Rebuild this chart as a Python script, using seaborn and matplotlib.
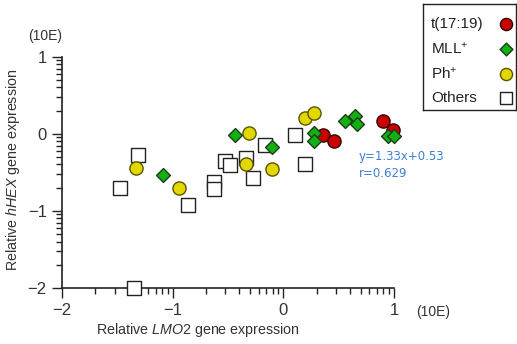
import matplotlib.pyplot as plt
import matplotlib.ticker as mticker
import seaborn as sns
import pandas as pd
import numpy as np

# log10 relative expression values
others_x = [-1.31, -1.48, -0.86, -0.63, -0.63, -0.53, -0.48, -0.34, -0.17, -0.27, 0.11, 0.20, -1.35]
others_y = [-0.27, -0.70, -0.93, -0.63, -0.71, -0.35, -0.41, -0.32, -0.15, -0.57, -0.02, -0.39, -2.0]
ph_x = [-1.33, -0.94, -0.31, -0.34, -0.10, 0.20, 0.28]
ph_y = [-0.45, -0.70, 0.01, -0.39, -0.46, 0.20, 0.27]
t1719_x = [0.36, 0.46, 0.90, 0.99]
t1719_y = [-0.01, -0.09, 0.16, 0.05]
mll_x = [-1.09, -0.44, -0.10, 0.28, 0.28, 0.56, 0.65, 0.67, 0.95, 1.00]
mll_y = [-0.54, -0.02, -0.17, 0.01, -0.09, 0.16, 0.23, 0.13, -0.03, -0.03]

ticks = [-2, -1, 0, 1]
fit_text = "y=1.33x+0.53\nr=0.629"

sns.set_style("ticks")
plt.rcParams['font.family'] = ['Liberation Sans', 'DejaVu Sans']
plt.rcParams['mathtext.fontset'] = 'custom'
plt.rcParams['mathtext.it'] = 'Liberation Sans:italic'
plt.rcParams['mathtext.rm'] = 'Liberation Sans'

fig = plt.figure(figsize=(5.17, 3.44), dpi=100)
ax = fig.add_axes([0.12, 0.163, 0.642, 0.672])

# name, x, y, marker, face, edge, size  (drawing order: squares under everything)
groups = [
    ("Others", others_x, others_y, "s", "white", "#222222", 95),
    ("Ph$^{+}$", ph_x, ph_y, "o", "#e2d800", "#5a5500", 90),
    ("t(17:19)", t1719_x, t1719_y, "o", "#c80000", "#3a0000", 90),
    ("MLL$^{+}$", mll_x, mll_y, "D", "#12b012", "#1c3c1c", 50),
]
style = {}
for name, xs, ys, mk, fc, ec, s in groups:
    df = pd.DataFrame({'x': xs, 'y': ys})
    sns.scatterplot(data=df, x='x', y='y', marker=mk, color=fc, edgecolor=ec,
                    linewidth=1.0, s=s, ax=ax, zorder=3, clip_on=False, legend=False)
    style[name] = (mk, fc, ec, s)

ax.set_xlim(-2, 1)
ax.set_ylim(-2, 1)
ax.set_xticks(ticks)
ax.set_yticks(ticks)
minor = [d + np.log10(k) for d in ticks[:-1] for k in range(2, 10)]
ax.xaxis.set_minor_locator(mticker.FixedLocator(minor))
ax.yaxis.set_minor_locator(mticker.FixedLocator(minor))
ax.tick_params(which='major', length=7, width=1, labelsize=12, colors='#222222',
               labelcolor='#333333', pad=4)
ax.tick_params(which='minor', length=4, width=1, colors='#222222')
for sp in ['left', 'bottom']:
    ax.spines[sp].set_color('#222222')
    ax.spines[sp].set_linewidth(1.2)
sns.despine(ax=ax)

ax.set_xlabel("Relative $\\it{LMO2}$ gene expression", fontsize=10.3, color='#333333')
ax.set_ylabel("Relative $\\it{hHEX}$ gene expression", fontsize=10.3, color='#333333')
ax.xaxis.set_label_coords(0.41, -0.143)
ax.yaxis.set_label_coords(-0.12, 0.51)

fig.text(0.055, 0.895, "(10E)", fontsize=10, color='#333333', va='center')
fig.text(0.805, 0.093, "(10E)", fontsize=10, color='#333333', va='center')

ax.text(0.68, -0.21, fit_text, fontsize=8.5, color='#3a80d8', family='DejaVu Sans',
        va='top', linespacing=1.45)

# legend box: text left, marker right
order = ["t(17:19)", "MLL$^{+}$", "Ph$^{+}$", "Others"]
lax = fig.add_axes([0.818, 0.68, 0.18, 0.308])
lax.set_xlim(0, 1)
lax.set_ylim(0, 1)
lax.set_xticks([])
lax.set_yticks([])
for sp in lax.spines.values():
    sp.set_visible(True)
    sp.set_color('#222222')
    sp.set_linewidth(1.0)
row_y = [0.81, 0.58, 0.34, 0.11]
for name, yy in zip(order, row_y):
    mk, fc, ec, s = style[name]
    lax.text(0.09, yy, name, fontsize=11, color='#222222', va='center', ha='left')
    lax.scatter([0.89], [yy], marker=mk, color=fc, edgecolor=ec, linewidth=1.0,
                s=s * 0.85)

fig.savefig("out.png", dpi=100)
